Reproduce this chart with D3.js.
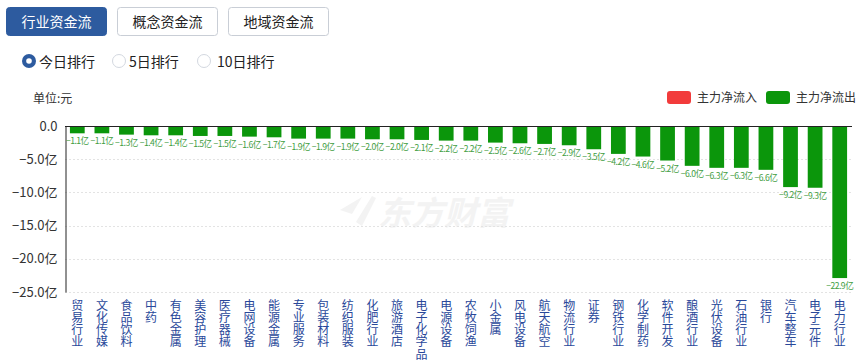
<!DOCTYPE html>
<html><head><meta charset="utf-8">
<script src="https://cdn.jsdelivr.net/npm/d3@7/dist/d3.min.js"></script>
<style>body{margin:0;background:#fff;}svg{display:block;font-family:"Microsoft YaHei","Noto Sans CJK SC",sans-serif;}</style>
</head><body>
<svg id="c" width="868" height="364"></svg>
<script>
const categories = ["贸易行业","文化传媒","食品饮料","中药","有色金属","美容护理","医疗器械","电网设备","能源金属","专业服务","包装材料","纺织服装","化肥行业","旅游酒店","电子化学品","电源设备","农牧饲渔","小金属","风电设备","航天航空","物流行业","证券","钢铁行业","化学制药","软件开发","酿酒行业","光伏设备","石油行业","银行","汽车整车","电子元件","电力行业"];
const values = [-1.1,-1.1,-1.3,-1.4,-1.4,-1.5,-1.5,-1.6,-1.7,-1.9,-1.9,-1.9,-2.0,-2.0,-2.1,-2.2,-2.2,-2.5,-2.6,-2.7,-2.9,-3.5,-4.2,-4.6,-5.2,-6.0,-6.3,-6.3,-6.6,-9.2,-9.3,-22.9];
const yTicks = [0,-5,-10,-15,-20,-25];
const tabs = ["行业资金流","概念资金流","地域资金流"];
const radios = ["今日排行","5日排行","10日排行"];
const legendItems = ["主力净流入","主力净流出"];

const svg = d3.select("#c");
const BLUE = "#2d5b9f", GREEN = "#0b960b", RED = "#f23b3b";

// tabs
const tabX = [6,117,228];
tabs.forEach((t,i)=>{
  svg.append("rect").attr("x",tabX[i]+0.5).attr("y",7.5).attr("width",100).attr("height",28).attr("rx",3)
    .attr("fill", i===0?BLUE:"#fff").attr("stroke", i===0?BLUE:"#c9ced6");
  svg.append("text").attr("x",tabX[i]+50.5).attr("y",27).attr("text-anchor","middle")
    .attr("font-size",14).attr("fill", i===0?"#fff":"#222").text(t);
});
// radios
const rX = [29,119,204];
radios.forEach((t,i)=>{
  if(i===0){
    svg.append("circle").attr("cx",rX[i]).attr("cy",61).attr("r",7).attr("fill",BLUE);
    svg.append("circle").attr("cx",rX[i]).attr("cy",61).attr("r",2.8).attr("fill","#fff");
  } else {
    svg.append("circle").attr("cx",rX[i]).attr("cy",61).attr("r",6.5).attr("fill","#fff").attr("stroke","#d3d8e0");
  }
  svg.append("text").attr("x",rX[i]+(i===2?13:10)).attr("y",66.5).attr("font-size",14).attr("fill","#222").text(t);
});

// unit
svg.append("text").attr("x",33).attr("y",103).attr("font-size",12).attr("fill","#333").text("单位:元");

// legend
[[667,RED],[766,GREEN]].forEach((d,i)=>{
  svg.append("rect").attr("x",d[0]).attr("y",91).attr("width",24).attr("height",13).attr("rx",3).attr("fill",d[1]);
  svg.append("text").attr("x",d[0]+30).attr("y",102).attr("font-size",12).attr("fill","#333").text(legendItems[i]);
});

// watermark
const wm = svg.append("g").attr("fill","#f3f3f3");
wm.append("path").attr("d","M340,210 L362,197 L352,214 Z M356,222 L372,196 L376,198 L362,226 Z");
wm.append("text").attr("x",378).attr("y",225).attr("font-size",33).attr("font-weight","bold").attr("font-style","italic").text("东方财富");

// scales
const x = d3.scaleBand().domain(categories).range([65,852]).paddingInner(0.4).paddingOuter(0.2);
const y = d3.scaleLinear().domain([-25,0]).range([292,126]);

// grid
svg.append("g").selectAll("line").data(yTicks.filter(v=>v!==0)).join("line")
  .attr("x1",65).attr("x2",852).attr("y1",d=>Math.round(y(d))+0.5).attr("y2",d=>Math.round(y(d))+0.5)
  .attr("stroke","#e3e3e3").attr("stroke-dasharray","2,2");

// y axis
const yAxis = d3.axisLeft(y).tickValues(yTicks).tickSize(0).tickPadding(8)
  .tickFormat(d=> d===0 ? "0.0" : d3.format(".1f")(d)+"亿");
const ga = svg.append("g").attr("transform","translate(65.5,0)").call(yAxis);
ga.select(".domain").attr("stroke","#222");
ga.selectAll("text").attr("font-size",13).attr("fill","#333").attr("font-family","'Microsoft YaHei','Noto Sans CJK SC',sans-serif");

// bars
svg.append("g").selectAll("rect").data(values).join("rect")
  .attr("x",(d,i)=>x(categories[i])).attr("width",x.bandwidth())
  .attr("y",y(0)+1).attr("height",d=>y(d)-y(0)-1).attr("fill",GREEN);

// zero line
svg.append("line").attr("x1",65).attr("x2",852).attr("y1",Math.round(y(0))+0.5).attr("y2",Math.round(y(0))+0.5).attr("stroke","#222");

// value labels
svg.append("g").selectAll("text").data(values).join("text")
  .attr("x",(d,i)=>x(categories[i])+x.bandwidth()/2).attr("y",d=>y(d)+11)
  .attr("text-anchor","middle").attr("font-size",8.6).attr("fill","#3f9d3f").attr("letter-spacing",-0.5)
  .text(d=>d3.format(".1f")(d)+"亿");

// category labels: one vertical-mode text per character
const cg = svg.append("g");
categories.forEach(c=>{
  Array.from(c).forEach((ch,j)=>{
    cg.append("text").attr("writing-mode","vertical-rl").style("text-orientation","upright")
      .attr("font-size",12).attr("fill","#29489a")
      .attr("x",x(c)+x.bandwidth()/2).attr("y",299+j*12.3).text(ch);
  });
});
</script>
</body></html>
